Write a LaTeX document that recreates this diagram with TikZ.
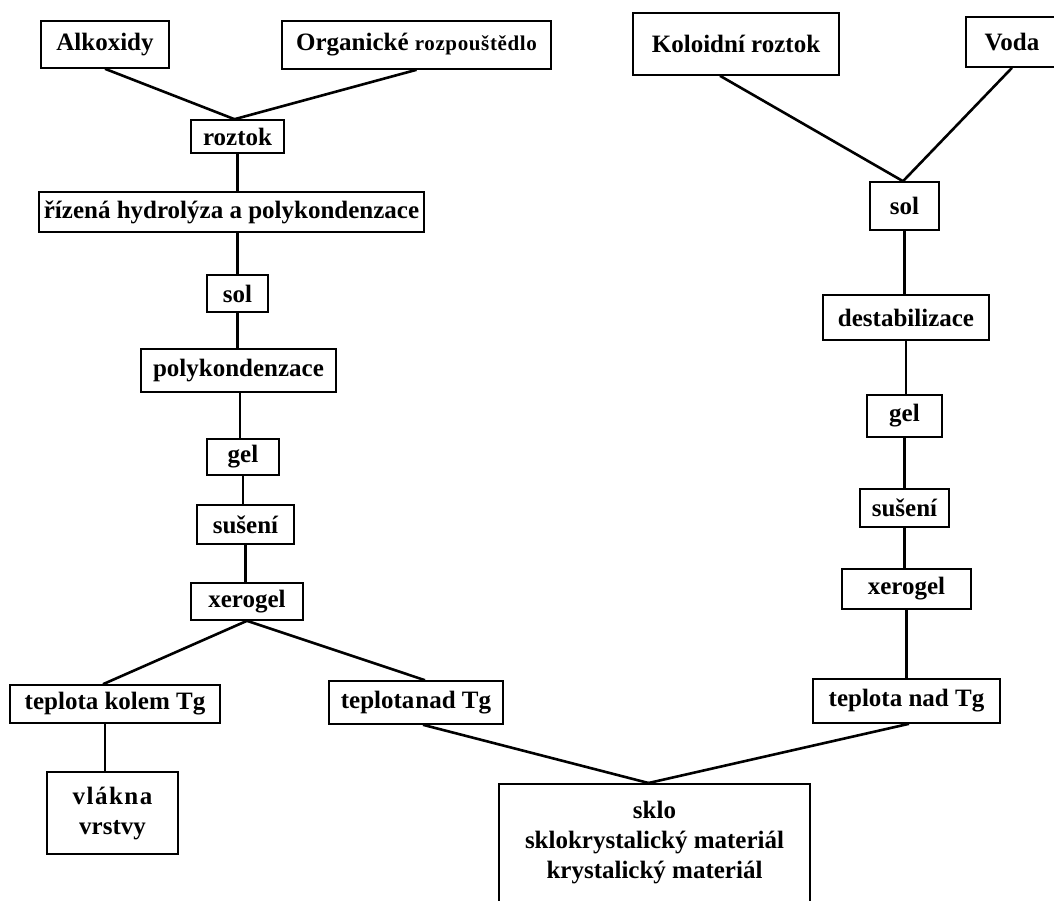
\documentclass[tikz,border=0pt]{standalone}
\usepackage{fontspec}
\setmainfont{Liberation Serif}
\usetikzlibrary{calc}
\tikzset{
  box/.style={draw=black, line width=1.6pt, inner sep=0pt, align=center,
    font=\fontsize{25}{30}\selectfont\bfseries},
  txt/.style={inner sep=0pt, align=center, font=\fontsize{25}{30}\selectfont\bfseries},
  link/.style={draw=black, line width=2.6pt},
}
\begin{document}
\begin{tikzpicture}[x=1pt,y=-1pt]
\useasboundingbox (0,0) rectangle (1054,900);
% left branch
\node[box, minimum width=128pt, minimum height=47pt] (alk) at (105,44.5) {Alkoxidy};
\node[box, minimum width=269pt, minimum height=48pt] (org) at (416.5,45) {Organické {\fontsize{21}{24}\selectfont\addfontfeatures{LetterSpace=3}rozpouštědlo}};
\node[box, minimum width=93pt, minimum height=33pt] (roz) at (237.5,136.5) {roztok};
\node[box, minimum width=385pt, minimum height=40pt] (hyd) at (231.5,212) {řízená hydrolýza a polykondenzace};
\node[box, minimum width=61pt, minimum height=37pt] (sol1) at (237.5,293.5) {sol};
\node[box, minimum width=195pt, minimum height=43pt] (pk) at (238.5,370.5) {polykondenzace};
\node[box, minimum width=72pt, minimum height=36pt] (gel1) at (243,457) {gel};
\node[box, minimum width=97pt, minimum height=39pt] (sus1) at (245.5,524.5) {sušení};
\node[box, minimum width=112pt, minimum height=37pt] (xer1) at (247,601.5) {xerogel};
\node[box, minimum width=210pt, minimum height=38pt] (tk) at (115,704) {teplota kolem Tg};
\node[box, minimum width=174pt, minimum height=43pt] (tn1) at (416,702.5) {teplota\kern1pt nad Tg};
\node[box, minimum width=131pt, minimum height=82pt] (vl) at (112.5,813) {{\addfontfeatures{LetterSpace=6}vlákna}\\vrstvy};
% bottom box
\node[box, anchor=north, minimum width=311pt, minimum height=160pt] (sklo) at (654.5,783) {};
\node[txt, anchor=north] (sklotext) at ([yshift=-18pt]sklo.north) {sklo\\sklokrystalický materiál\\krystalický materiál};
% right branch
\node[box, minimum width=206pt, minimum height=62pt] (kol) at (736,44) {Koloidní roztok};
\node[box, minimum width=92pt, minimum height=50pt] (voda) at (1012,42) {Voda};
\node[box, minimum width=69pt, minimum height=48pt] (sol2) at (904.5,206) {sol};
\node[box, minimum width=166pt, minimum height=45pt] (des) at (906,317.5) {destabilizace};
\node[box, minimum width=75pt, minimum height=42pt] (gel2) at (904.5,416) {gel};
\node[box, minimum width=89pt, minimum height=38pt] (sus2) at (904.5,508) {sušení};
\node[box, minimum width=129pt, minimum height=40pt] (xer2) at (906.5,589) {xerogel};
\node[box, minimum width=187pt, minimum height=44pt] (tn2) at (906.5,701) {teplota nad Tg};
% connectors left
\draw[link] (alk.south) -- ([xshift=-3pt]roz.north);
\draw[link] (org.south) -- ([xshift=-3pt]roz.north);
\draw[link] (roz.south) -- (roz.south |- hyd.north);
\draw[link] (hyd.south -| sol1.north) -- (sol1.north);
\draw[link] (sol1.south) -- (sol1.south |- pk.north);
\draw[link] ([xshift=1.5pt]pk.south) -- ([xshift=1.5pt]pk.south |- gel1.north);
\draw[link] (gel1.south) -- (gel1.south |- sus1.north);
\draw[link] (sus1.south) -- (sus1.south |- xer1.north);
\draw[link] (xer1.south) -- ([xshift=-12pt]tk.north);
\draw[link] (xer1.south) -- ([xshift=9pt]tn1.north);
\draw[link] ([xshift=-10pt]tk.south) -- ([xshift=-10pt]tk.south |- vl.north);
\draw[link] ([xshift=7pt]tn1.south) -- ([xshift=-6pt]sklo.north);
% connectors right
\draw[link] ([xshift=-16pt]kol.south) -- ([xshift=-1.5pt]sol2.north);
\draw[link] (voda.south) -- ([xshift=-1.5pt]sol2.north);
\draw[link] (sol2.south) -- (sol2.south |- des.north);
\draw[link] (des.south) -- (des.south |- gel2.north);
\draw[link] (gel2.south) -- (gel2.south |- sus2.north);
\draw[link] (sus2.south) -- (sus2.south |- xer2.north);
\draw[link] (xer2.south) -- (xer2.south |- tn2.north);
\draw[link] ([xshift=2.5pt]tn2.south) -- ([xshift=-6pt]sklo.north);
\end{tikzpicture}
\end{document}
